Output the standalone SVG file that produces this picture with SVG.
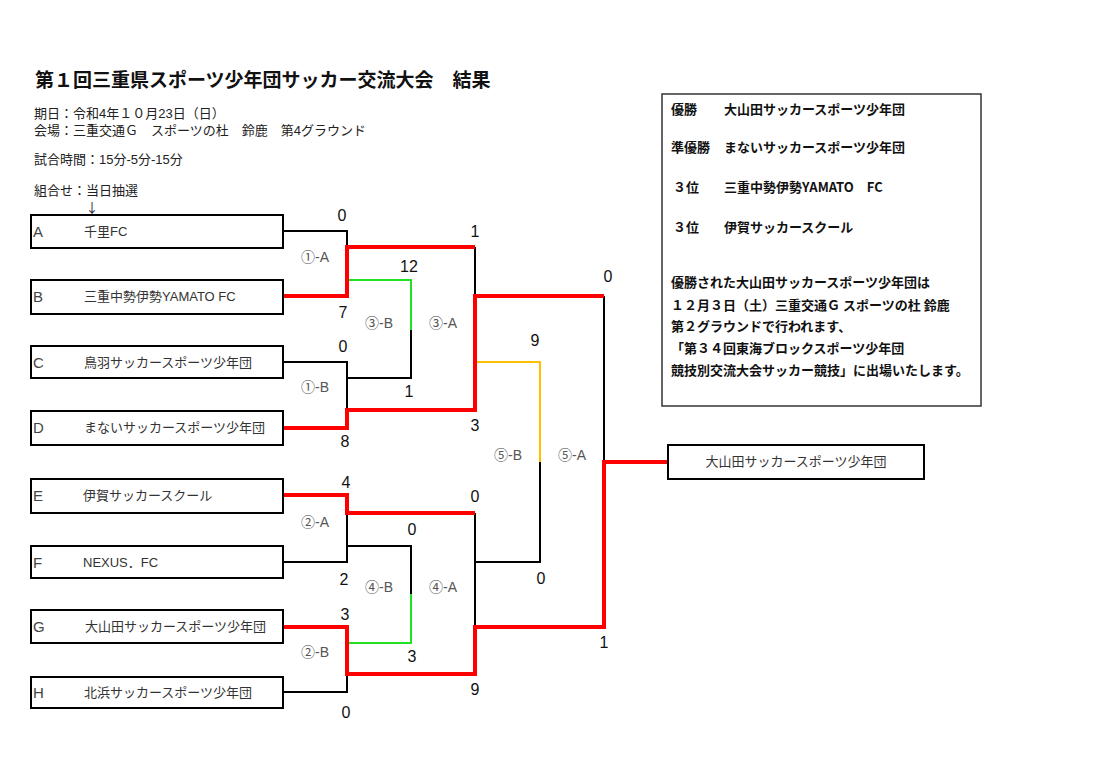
<svg xmlns="http://www.w3.org/2000/svg" width="1101" height="776" viewBox="0 0 1101 776">
<style>
.bg{fill:#fff}
.box{fill:#fff;stroke:#000;stroke-width:2}
.t{font-family:"Liberation Sans","Noto Sans CJK JP",sans-serif;font-size:13px;fill:#222}
.title{font-family:"Noto Sans CJK JP","Noto Sans",sans-serif;font-size:19px;font-weight:bold;fill:#111}
.info{font-family:"Noto Sans CJK JP","Noto Sans",sans-serif;font-size:13px;font-weight:bold;fill:#111}
.lt{font-family:"Liberation Sans","Noto Sans CJK JP",sans-serif;font-size:15px;fill:#444}
.nm{font-family:"Liberation Sans","Noto Sans CJK JP",sans-serif;font-size:13px;fill:#333}
.sc{font-family:"Liberation Sans",sans-serif;font-size:16px;fill:#111;text-anchor:middle}
.ml{font-family:"Liberation Sans","Noto Sans CJK JP",sans-serif;font-size:14px;fill:#555;text-anchor:middle}
.ar{font-family:"Noto Sans CJK JP",sans-serif;font-size:13px;fill:#223}
.k{fill:none;stroke:#000;stroke-width:2}
.r{fill:none;stroke:#ff0000;stroke-width:4}
.g{fill:none;stroke:#22e022;stroke-width:2}
.y{fill:none;stroke:#ffc000;stroke-width:2}
</style>
<rect class="bg" x="0" y="0" width="1101" height="776"/>
<g id="header">
<text class="title" x="35" y="87">第１回三重県スポーツ少年団サッカー交流大会　結果</text>
<text class="t" x="34" y="118">期日：令和4年１０月23日（日）</text>
<text class="t" x="34" y="135">会場：三重交通Ｇ　スポーツの杜　鈴鹿　第4グラウンド</text>
<text class="t" x="34" y="164">試合時間：15分-5分-15分</text>
<text class="t" x="34" y="195">組合せ：当日抽選</text>
<text class="ar" x="85.5" y="212">↓</text>
</g>
<g id="connectors">
<path class="k" d="M283,231 H347 V247"/>
<path class="k" d="M283,362 H347 V410"/>
<path class="k" d="M475,247 V297"/>
<path class="k" d="M411,330 V378 H347"/>
<path class="k" d="M283,562 H347 V513"/>
<path class="k" d="M347,546 H411 V594"/>
<path class="k" d="M283,692 H347 V674"/>
<path class="k" d="M475,513 V627"/>
<path class="k" d="M540,462 V562 H475"/>
<path class="k" d="M604,296 V462"/>
<path class="g" d="M347,280 H411 V330"/>
<path class="g" d="M347,643 H411 V594"/>
<path class="y" d="M475,362 H540 V462"/>
<path class="r" d="M283,296 H347 V247 H475"/>
<path class="r" d="M283,428 H347 V410 H475 V296 H604"/>
<path class="r" d="M283,495 H347 V513 H475"/>
<path class="r" d="M283,627 H347 V674 H475 V627 H604 V462 H668"/>
</g>
<g id="scores">
<text class="sc" x="342" y="221">0</text>
<text class="sc" x="475" y="237">1</text>
<text class="sc" x="409" y="272">12</text>
<text class="sc" x="343" y="318">7</text>
<text class="sc" x="343" y="352">0</text>
<text class="sc" x="409" y="397">1</text>
<text class="sc" x="475" y="431">3</text>
<text class="sc" x="345" y="447">8</text>
<text class="sc" x="346" y="488">4</text>
<text class="sc" x="475" y="502">0</text>
<text class="sc" x="412" y="535">0</text>
<text class="sc" x="344" y="585">2</text>
<text class="sc" x="345" y="620">3</text>
<text class="sc" x="412" y="662">3</text>
<text class="sc" x="475" y="695">9</text>
<text class="sc" x="346" y="718">0</text>
<text class="sc" x="608" y="282">0</text>
<text class="sc" x="535" y="346">9</text>
<text class="sc" x="541" y="584">0</text>
<text class="sc" x="604" y="648">1</text>
<text class="ml" x="315" y="262">①-A</text>
<text class="ml" x="379" y="328">③-B</text>
<text class="ml" x="443" y="328">③-A</text>
<text class="ml" x="315" y="392">①-B</text>
<text class="ml" x="315" y="527">②-A</text>
<text class="ml" x="379" y="592">④-B</text>
<text class="ml" x="443" y="592">④-A</text>
<text class="ml" x="315" y="657">②-B</text>
<text class="ml" x="508" y="460">⑤-B</text>
<text class="ml" x="572" y="460">⑤-A</text>
</g>
<g id="team-A"><rect class="box" x="31" y="215" width="252" height="33"/><text class="lt" x="33" y="237">A</text><text class="nm" x="84" y="236">千里FC</text></g>
<g id="team-B"><rect class="box" x="31" y="280" width="252" height="34"/><text class="lt" x="33" y="302">B</text><text class="nm" x="84" y="301">三重中勢伊勢YAMATO FC</text></g>
<g id="team-C"><rect class="box" x="31" y="346" width="252" height="32"/><text class="lt" x="33" y="368">C</text><text class="nm" x="84" y="367">鳥羽サッカースポーツ少年団</text></g>
<g id="team-D"><rect class="box" x="31" y="411" width="252" height="34"/><text class="lt" x="33" y="433">D</text><text class="nm" x="84" y="432">まないサッカースポーツ少年団</text></g>
<g id="team-E"><rect class="box" x="31" y="479" width="252" height="34"/><text class="lt" x="33" y="501">E</text><text class="nm" x="83" y="500">伊賀サッカースクール</text></g>
<g id="team-F"><rect class="box" x="31" y="546" width="252" height="32"/><text class="lt" x="33" y="568">F</text><text class="nm" x="83" y="567">NEXUS．FC</text></g>
<g id="team-G"><rect class="box" x="31" y="610" width="252" height="33"/><text class="lt" x="33" y="632">G</text><text class="nm" x="85" y="631">大山田サッカースポーツ少年団</text></g>
<g id="team-H"><rect class="box" x="31" y="677" width="252" height="31"/><text class="lt" x="33" y="698">H</text><text class="nm" x="84" y="697">北浜サッカースポーツ少年団</text></g>
<g id="champion"><rect class="box" x="668" y="445" width="256" height="34"/><text class="nm" x="796" y="466" text-anchor="middle">大山田サッカースポーツ少年団</text></g>
<g id="results">
<rect x="662" y="94" width="319" height="312" fill="#fff" stroke="#333" stroke-width="1.5"/>
<text class="info" x="671" y="114">優勝</text><text class="info" x="724" y="114">大山田サッカースポーツ少年団</text>
<text class="info" x="671" y="152">準優勝</text><text class="info" x="724" y="152">まないサッカースポーツ少年団</text>
<text class="info" x="673" y="192">３位</text><text class="info" x="724" y="192">三重中勢伊勢YAMATO　FC</text>
<text class="info" x="673" y="232">３位</text><text class="info" x="724" y="232">伊賀サッカースクール</text>
<text class="info" x="671" y="287">優勝された大山田サッカースポーツ少年団は</text>
<text class="info" x="671" y="310">１２月３日（土）三重交通Ｇ スポーツの杜 鈴鹿</text>
<text class="info" x="671" y="331">第２グラウンドで行われます、</text>
<text class="info" x="671" y="353">「第３４回東海ブロックスポーツ少年団</text>
<text class="info" x="671" y="375">競技別交流大会サッカー競技」に出場いたします。</text>
</g>
</svg>
